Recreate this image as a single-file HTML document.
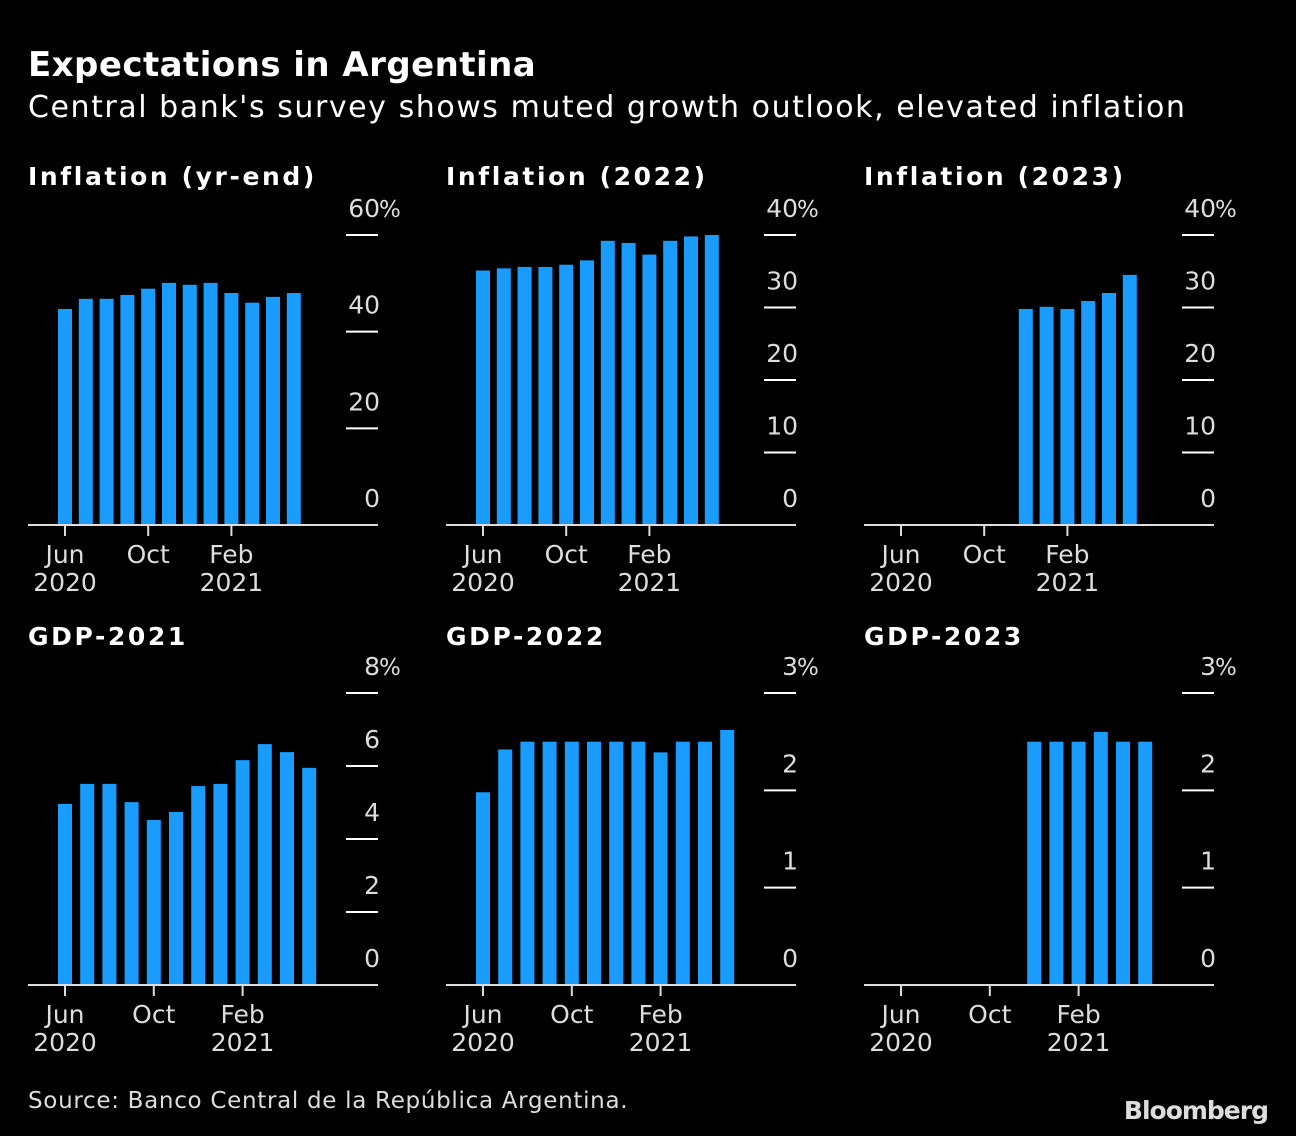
<!DOCTYPE html>
<html><head><meta charset="utf-8"><style>
html,body{margin:0;padding:0;background:#000;}
svg{display:block;}
text{font-family:"DejaVu Sans","Liberation Sans",sans-serif;}
</style></head><body>
<svg id="chart" width="1296" height="1136" viewBox="0 0 1296 1136" xmlns="http://www.w3.org/2000/svg">
<rect width="1296" height="1136" fill="#000"/>
<text x="28" y="76" fill="#fff" font-size="34" font-weight="bold" letter-spacing="0.45">Expectations in Argentina</text>
<text x="28" y="117" fill="#fff" font-size="30" letter-spacing="1.55">Central bank's survey shows muted growth outlook, elevated inflation</text>
<text x="28" y="1108" fill="#ddd" font-size="23" letter-spacing="0.7">Source: Banco Central de la República Argentina.</text>
<text x="1268" y="1119" fill="#ddd" font-size="25" font-weight="bold" text-anchor="end" letter-spacing="-1">Bloomberg</text>
<g id="panels"></g>
</svg>
<script>
// month indices: 0 = Jun 2020
const monthLabels = ["Jun", "Oct", "Feb"];
const yearLabels = ["2020", "", "2021"];
const monthTickIdx = [0, 4, 8];

const inflYrEndStart = 0;
const inflYrEnd = [44.7, 46.8, 46.8, 47.6, 48.9, 50.1, 49.7, 50.1, 48.0, 46.0, 47.2, 48.0];
const inflYrEndTicks = [0, 20, 40, 60];

const infl2022Start = 0;
const infl2022 = [35.1, 35.4, 35.6, 35.6, 35.9, 36.5, 39.2, 38.9, 37.3, 39.2, 39.8, 40.0];
const infl2022Ticks = [0, 10, 20, 30, 40];

const infl2023Start = 6;
const infl2023 = [29.8, 30.1, 29.8, 30.9, 32.0, 34.5];
const infl2023Ticks = [0, 10, 20, 30, 40];

const gdp2021Start = 0;
const gdp2021 = [4.96, 5.51, 5.51, 5.01, 4.52, 4.74, 5.45, 5.51, 6.16, 6.60, 6.38, 5.95];
const gdp2021Ticks = [0, 2, 4, 6, 8];

const gdp2022Start = 0;
const gdp2022 = [1.98, 2.42, 2.50, 2.50, 2.50, 2.50, 2.50, 2.50, 2.39, 2.50, 2.50, 2.62];
const gdp2022Ticks = [0, 1, 2, 3];

const gdp2023Start = 6;
const gdp2023 = [2.50, 2.50, 2.50, 2.60, 2.50, 2.50];
const gdp2023Ticks = [0, 1, 2, 3];

const NS = "http://www.w3.org/2000/svg";
const root = document.getElementById("panels");
function mk(tag, attrs, parent) {
  const e = document.createElementNS(NS, tag);
  for (const k in attrs) e.setAttribute(k, attrs[k]);
  parent.appendChild(e);
  return e;
}

function panel(key, title, x0, row, values, start, ticks) {
  const base = row === 0 ? 525 : 985;
  const top = row === 0 ? 235 : 693;
  const step = row === 0 ? 20.8 : 22.2;
  const maxV = ticks[ticks.length - 1];
  const y = v => base - (v / maxV) * (base - top);
  const xm = i => x0 + 37 + i * step;
  const g = mk("g", {}, root);
  
  
  const t = mk("text", {x: x0, y: row === 0 ? 185 : 645, fill: "#fff", "font-size": 25, "font-weight": "bold", "letter-spacing": 2.6}, g);
  t.textContent = title;
  
  
  ticks.forEach((v, i) => {
    const ty = y(v);
    if (v !== 0) {
      const l = mk("line", {x1: x0 + 318, x2: x0 + 350, y1: ty, y2: ty, stroke: "#fff", "stroke-width": 2}, g);
      
      
    }
    const tx = mk("text", {x: x0 + 352, y: ty - 18, fill: "#ddd", "font-size": 25, "text-anchor": "end"}, g);
    tx.textContent = v;
    
    
    if (i === ticks.length - 1) {
      const p = mk("text", {x: x0 + 351, y: ty - 18, fill: "#ddd", "font-size": 23}, g);
      p.textContent = "%";
      
      
    }
  });
  values.forEach((v, i) => {
    const cx = xm(start + i);
    const r = mk("rect", {x: cx - 7, y: y(v), width: 14, height: base - y(v), fill: "#1a9cff"}, g);
    
    
  });
  const b = mk("line", {x1: x0, x2: x0 + 350, y1: base, y2: base, stroke: "#ddd", "stroke-width": 2}, g);
  
  
  monthTickIdx.forEach((m, i) => {
    const cx = xm(m);
    const tk = mk("line", {x1: cx, x2: cx, y1: base, y2: base + 11, stroke: "#ddd", "stroke-width": 2}, g);
    
    
    const ml = mk("text", {x: cx, y: base + 38, fill: "#ddd", "font-size": 25, "text-anchor": "middle"}, g);
    ml.textContent = monthLabels[i];
    
    
    if (yearLabels[i]) {
      const yl = mk("text", {x: cx, y: base + 66, fill: "#ddd", "font-size": 25, "text-anchor": "middle"}, g);
      yl.textContent = yearLabels[i];
      
      
    }
  });
}

panel("inflation-yr-end", "Inflation (yr-end)", 28, 0, inflYrEnd, inflYrEndStart, inflYrEndTicks);
panel("inflation-2022", "Inflation (2022)", 446, 0, infl2022, infl2022Start, infl2022Ticks);
panel("inflation-2023", "Inflation (2023)", 864, 0, infl2023, infl2023Start, infl2023Ticks);
panel("gdp-2021", "GDP-2021", 28, 1, gdp2021, gdp2021Start, gdp2021Ticks);
panel("gdp-2022", "GDP-2022", 446, 1, gdp2022, gdp2022Start, gdp2022Ticks);
panel("gdp-2023", "GDP-2023", 864, 1, gdp2023, gdp2023Start, gdp2023Ticks);
</script>
</body></html>
